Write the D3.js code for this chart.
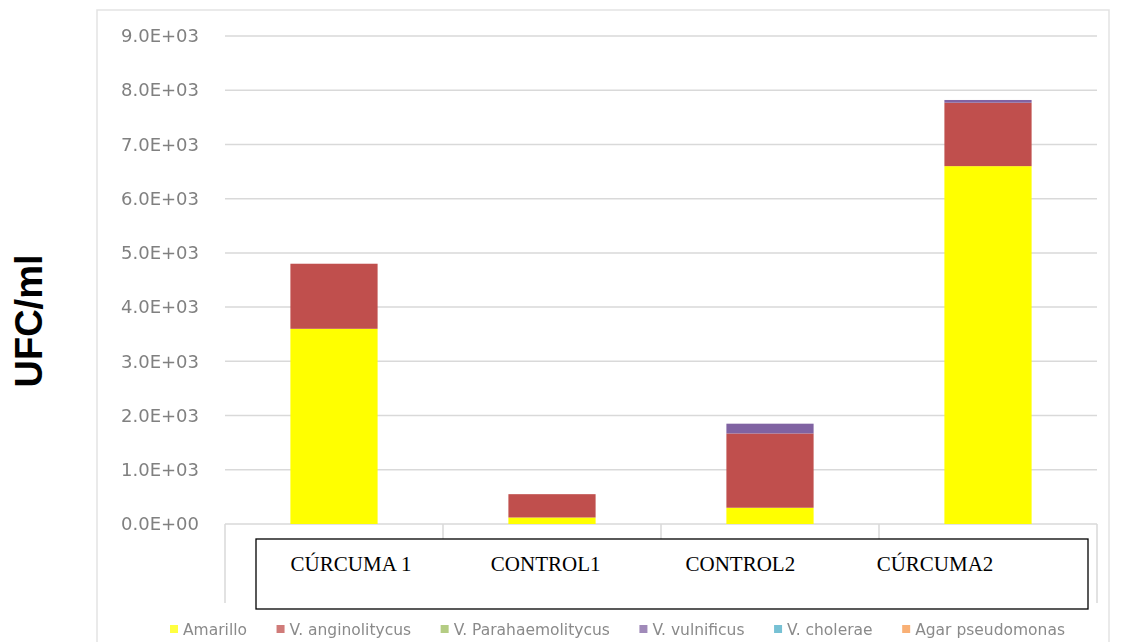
<!DOCTYPE html>
<html>
<head>
<meta charset="utf-8">
<script src="https://cdn.jsdelivr.net/npm/d3@7"></script>
<style>
  html, body { margin: 0; padding: 0; background: #ffffff; }
  svg { display: block; }
</style>
</head>
<body>
<svg id="chart" width="1124" height="642"></svg>
<script>
// ---- data ----
const categories = ["CÚRCUMA 1", "CONTROL1", "CONTROL2", "CÚRCUMA2"];
const boxLabels = ["CÚRCUMA 1", "CONTROL1", "CONTROL2", "CÚRCUMA2"];
const seriesNames = ["Amarillo", "V. anginolitycus", "V. Parahaemolitycus", "V. vulnificus", "V. cholerae", "Agar pseudomonas"];
const amarillo        = [3600, 120, 300, 6600];
const vAnginolitycus  = [1200, 430, 1370, 1170];
const vParahaemolit   = [0, 0, 0, 0];
const vVulnificus     = [0, 0, 180, 50];
const vCholerae       = [0, 0, 0, 0];
const agarPseudomonas = [0, 0, 0, 0];
const yTicks = [0, 1000, 2000, 3000, 4000, 5000, 6000, 7000, 8000, 9000];
const seriesColors = ["#ffff00", "#c0504d", "#9bbb59", "#8064a2", "#4bacc6", "#f79646"];

const seriesValues = [amarillo, vAnginolitycus, vParahaemolit, vVulnificus, vCholerae, agarPseudomonas];
const table = categories.map((c, i) => {
  const row = { cat: c };
  seriesNames.forEach((s, k) => row[s] = seriesValues[k][i]);
  return row;
});

const svg = d3.select("#chart");

const defs = svg.append("defs");
defs.append("filter").attr("id", "soft")
  .attr("x", "-5%").attr("y", "-5%").attr("width", "110%").attr("height", "110%")
  .append("feGaussianBlur").attr("stdDeviation", 0.7);

// outer chart frame
svg.append("rect")
  .attr("x", 97).attr("y", 10).attr("width", 1012).attr("height", 650)
  .attr("fill", "none").attr("stroke", "#e3e3e3").attr("stroke-width", 1.5);

const plotLeft = 225, plotRight = 1097;
const x = d3.scaleBand().domain(categories).range([plotLeft, plotRight])
  .paddingInner(0.6).paddingOuter(0.3);
const y = d3.scaleLinear().domain([0, 9000]).range([524, 36]);

const fmt = v => {
  if (v === 0) return "0.0E+00";
  const e = Math.floor(Math.log10(v));
  const m = v / Math.pow(10, e);
  return m.toFixed(1) + "E+" + String(e).padStart(2, "0");
};

const g = svg.append("g").attr("filter", "url(#soft)");

// gridlines
g.append("g").selectAll("line").data(yTicks.filter(t => t > 0)).join("line")
  .attr("x1", plotLeft).attr("x2", plotRight)
  .attr("y1", d => y(d)).attr("y2", d => y(d))
  .attr("stroke", "#d9d9d9").attr("stroke-width", 1.5);

// y-axis labels
const yAxis = d3.axisLeft(y).tickValues(yTicks).tickFormat(fmt).tickSize(0).tickPadding(0);
const ya = g.append("g").attr("transform", "translate(199,0)").call(yAxis);
ya.select(".domain").remove();
ya.selectAll("text")
  .attr("font-family", "DejaVu Sans").attr("font-size", 18).attr("fill", "#808080");

// category axis line + tick divisions
g.append("line")
  .attr("x1", plotLeft).attr("x2", plotRight)
  .attr("y1", y(0)).attr("y2", y(0))
  .attr("stroke", "#d9d9d9").attr("stroke-width", 1.5);
const step = x.step();
const bounds = d3.range(categories.length + 1).map(i => plotLeft + i * step);
g.append("g").selectAll("line").data(bounds).join("line")
  .attr("x1", d => d).attr("x2", d => d)
  .attr("y1", y(0)).attr("y2", 603)
  .attr("stroke", "#d9d9d9").attr("stroke-width", 1.5);

// stacked bars
const stack = d3.stack().keys(seriesNames)(table);
g.append("g").selectAll("g").data(stack).join("g")
  .attr("fill", (d, i) => seriesColors[i])
  .selectAll("rect").data(d => d).join("rect")
  .attr("x", d => x(d.data.cat))
  .attr("width", x.bandwidth())
  .attr("y", d => y(d[1]))
  .attr("height", d => y(d[0]) - y(d[1]));

// legend
const legend = g.append("g").attr("transform", "translate(0,630)");
const items = legend.selectAll("g").data(seriesNames).join("g");
items.append("rect").attr("width", 8).attr("height", 8).attr("y", -5)
  .attr("fill", (d, i) => seriesColors[i]).attr("opacity", 0.75);
items.append("text").attr("x", 13).attr("dy", "0.35em")
  .attr("font-family", "DejaVu Sans").attr("font-size", 15.5).attr("fill", "#8a8a8a")
  .text(d => d);
const widths = [];
items.each(function() { widths.push(13 + this.querySelector("text").getComputedTextLength()); });
const legStart = 170, legEnd = 1065;
const gap = (legEnd - legStart - d3.sum(widths)) / (widths.length - 1);
let cx = legStart;
items.attr("transform", (d, i) => { const t = `translate(${cx},0)`; cx += widths[i] + gap; return t; });

// y-axis title
svg.append("text")
  .attr("transform", "translate(42,321) rotate(-90)")
  .attr("text-anchor", "middle")
  .attr("font-family", "Liberation Sans").attr("font-weight", "bold")
  .attr("font-size", 38).attr("fill", "#000")
  .text("UFC/ml");

// overlay text box with category labels
svg.append("rect")
  .attr("x", 256).attr("y", 539).attr("width", 832).attr("height", 70)
  .attr("fill", "#ffffff").attr("stroke", "#000").attr("stroke-width", 1.3);
const bx = d3.scalePoint().domain(boxLabels).range([351, 935]);
svg.append("g").selectAll("text").data(boxLabels).join("text")
  .attr("x", d => bx(d)).attr("y", 571)
  .attr("text-anchor", "middle")
  .attr("font-family", "Liberation Serif").attr("font-size", 21).attr("fill", "#000")
  .text(d => d);
</script>
</body>
</html>
